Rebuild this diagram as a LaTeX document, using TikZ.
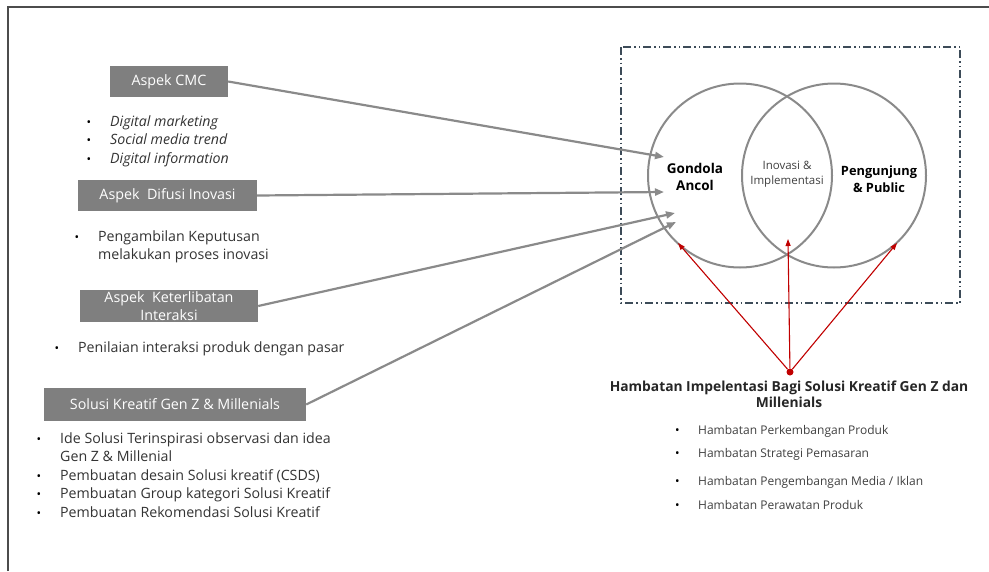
\documentclass[tikz,border=0pt]{standalone}
\usepackage{fontspec}
\setmainfont{Open Sans}
\usetikzlibrary{arrows.meta,positioning}
\definecolor{kotak}{RGB}{127,127,127}
\definecolor{garis}{RGB}{138,138,138}
\definecolor{merah}{RGB}{192,0,0}
\definecolor{bingkai}{RGB}{60,75,88}
\newcommand{\butir}[1]{\makebox[23.5pt][l]{\color{black}\large\textbullet}#1}
\newcommand{\lanjut}[1]{\makebox[23.5pt][l]{}#1}

\begin{document}
\begin{tikzpicture}[
      x=1pt,y=-1pt,
      aspek/.style={rectangle,fill=kotak,text=white,inner sep=0pt,align=center,
        font=\fontsize{14.3}{17.5}\selectfont},
      daftar/.style={anchor=base west,inner sep=0pt,align=left,text=black!80,
        font=\fontsize{14.2}{18.5}\selectfont},
      kendala/.style={anchor=base west,inner sep=0pt,text=black!75,
        font=\fontsize{12}{14}\selectfont},
      lingkar/.style={circle,draw=garis,line width=2pt,minimum size=184pt,inner sep=0pt},
      judul/.style={inner sep=0pt,align=center,font=\fontsize{13.8}{16}\selectfont\bfseries},
      panah/.style={-{Triangle[length=9pt,width=7pt]},garis,line width=2.2pt},
      panahmerah/.style={-{Triangle[length=7pt,width=5pt]},merah,line width=1.1pt}
    ]
      \useasboundingbox (0,0) rectangle (989,571);
      \draw[black!70,line width=2pt] (8,571) -- (8,7) -- (989,7);
      \draw[bingkai,line width=1.3pt,
            dash pattern=on 8pt off 3pt on 1.5pt off 3pt on 1.5pt off 3pt]
            (621,47) rectangle (960,303);

      % aspek boxes
      \node[aspek,minimum width=118pt,minimum height=31pt] (cmc) at (169,81.5) {Aspek CMC};
      \node[aspek,minimum width=179pt,minimum height=31pt] (difusi) at (167.5,195.5) {Aspek\ \ Difusi Inovasi};
      \node[aspek,minimum width=178pt,minimum height=32pt] (libat) at (169,306) {Aspek\ \ Keterlibatan\\Interaksi};
      \node[aspek,minimum width=262pt,minimum height=33pt] (solusi) at (175,404.5) {Solusi Kreatif Gen Z \& Millenials};

      % lists (anchored at the baseline of their last line)
      \node[daftar] (lcmc) at (86.5,163) {\butir{\itshape Digital marketing}\\
        \butir{\itshape Social media trend}\\\butir{\itshape Digital information}};
      \node[daftar] (ldifusi) at (74.5,259.5) {\butir{Pengambilan Keputusan}\\
        \lanjut{melakukan proses inovasi}};
      \node[daftar] (llibat) at (54.5,352) {\butir{Penilaian interaksi produk dengan pasar}};
      \node[daftar] (lsolusi) at (36.5,517) {\butir{Ide Solusi Terinspirasi observasi dan idea}\\
        \lanjut{Gen Z \& Millenial}\\\butir{Pembuatan desain Solusi kreatif (CSDS)}\\
        \butir{Pembuatan Group kategori Solusi Kreatif}\\\butir{Pembuatan Rekomendasi Solusi Kreatif}};

      % venn
      \node[lingkar] (gondola) at (740,175.5) {};
      \node[lingkar] (publik) at (834,175.5) {};
      \node[judul,font=\fontsize{13.5}{17}\selectfont\bfseries] (tgondola) at (695,176.5) {Gondola\\Ancol};
      \node[judul,font=\fontsize{12.8}{17}\selectfont\bfseries] (tpublik) at (879,179.5) {Pengunjung\\\& Public};
      \node[judul,font=\fontsize{11.5}{15}\selectfont,text=black!75] (tinovasi) at (787,174.5) {Inovasi \&\\Implementasi};

      \coordinate (pA) at (664,157);
      \coordinate (pB) at (664,192);
      \coordinate (pC) at (675,213);
      \coordinate (pD) at (676,222);
      \draw[panah] (cmc.east) -- (pA);
      \draw[panah] (difusi.east) -- (pB);
      \draw[panah] (libat.east) -- (pC);
      \draw[panah] (solusi.east) -- (pD);

      % hambatan
      \node[circle,fill=merah,inner sep=0pt,minimum size=7pt] (titik) at (790,372) {};
      \coordinate (mA) at (678,243);
      \coordinate (mB) at (788,239);
      \coordinate (mC) at (897,243);
      \draw[panahmerah] (titik) -- (mA);
      \draw[panahmerah] (titik) -- (mB);
      \draw[panahmerah] (titik) -- (mC);
      \node[judul,text=black!85] (hambatan) at (789,394) {Hambatan Impelentasi Bagi Solusi Kreatif Gen Z dan\\Millenials};
      \foreach \y/\teks [count=\i] in {434/{Hambatan Perkembangan Produk},457/{Hambatan Strategi Pemasaran},
          485/{Hambatan Pengembangan Media / Iklan},509/{Hambatan Perawatan Produk}}
        \node[kendala] (h\i) at (675,\y) {\makebox[23pt][l]{\color{black}\textbullet}\teks};
    \end{tikzpicture}
\end{document}
